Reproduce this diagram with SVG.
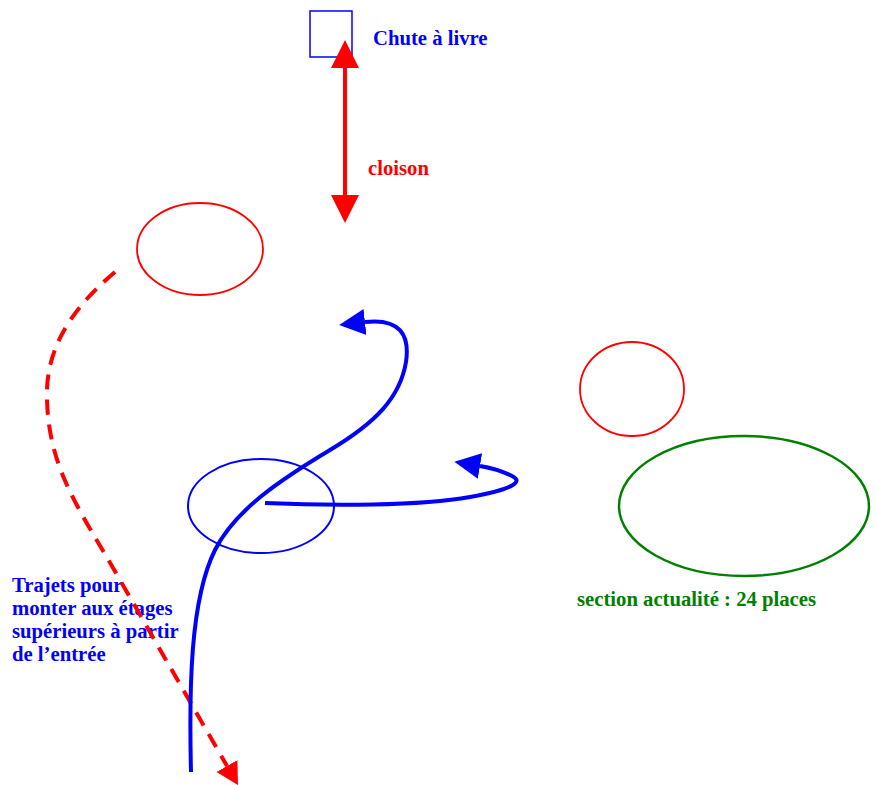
<svg xmlns="http://www.w3.org/2000/svg" width="877" height="785" viewBox="0 0 877 785">
<style>
.lbl{font-family:"Liberation Serif","Times New Roman",serif;font-weight:bold;font-size:20.7px}
.blue{fill:#0000FF}
.red{fill:#FF0000}
.green{fill:#008000}
.thin{fill:none;stroke-width:1.8}
</style>
<defs>
<marker id="ahRed" markerUnits="userSpaceOnUse" markerWidth="30" markerHeight="30" viewBox="0 -15 30 30" refX="0" refY="0" orient="auto-start-reverse">
<path d="M0,-14 L28,0 L0,14 z" fill="#FF0000"/>
</marker>
<marker id="ahRedD" markerUnits="userSpaceOnUse" markerWidth="30" markerHeight="30" viewBox="0 -15 30 30" refX="0" refY="0" orient="auto">
<path d="M0,-12 L22,0 L0,12 z" fill="#FF0000"/>
</marker>
<marker id="ahBlue" markerUnits="userSpaceOnUse" markerWidth="30" markerHeight="30" viewBox="0 -15 30 30" refX="0" refY="0" orient="auto">
<path d="M0,-13 L26,0 L0,13 z" fill="#0000FF"/>
</marker>
</defs>
<rect width="877" height="785" fill="#FFFFFF"/>
<g id="chute">
<rect x="310" y="11" width="42" height="46" fill="none" stroke="#0000FF" stroke-width="1.5"/>
<text class="lbl blue" x="373" y="45">Chute à livre</text>
</g>
<g id="cloison">
<text class="lbl red" x="368" y="175">cloison</text>
</g>
<g id="red-ellipse-1"><ellipse cx="200" cy="249" rx="63" ry="46" class="thin" stroke="#FF0000"/></g>
<g id="red-ellipse-2"><ellipse cx="632" cy="389" rx="52" ry="47" class="thin" stroke="#FF0000"/></g>
<g id="blue-ellipse"><ellipse cx="261" cy="506" rx="73" ry="47" fill="none" stroke="#0000FF" stroke-width="2"/></g>
<g id="section">
<ellipse cx="744" cy="506" rx="125" ry="70" fill="none" stroke="#008000" stroke-width="2.5"/>
<text class="lbl green" x="577" y="606">section actualité : 24 places</text>
</g>
<g id="trajets">
<text class="lbl blue" x="12"><tspan x="12" y="592">Trajets pour</tspan><tspan x="12" y="615">monter aux étages</tspan><tspan x="12" y="638">supérieurs à partir</tspan><tspan x="12" y="661">de l’entrée</tspan></text>
</g>
<g id="connectors">
<line x1="345" y1="68" x2="345" y2="195" stroke="#FF0000" stroke-width="4" marker-start="url(#ahRed)" marker-end="url(#ahRed)"/>
<path d="M115,272 C70,310 45,350 47,400 C49,470 80,510 120,580 L227,766" fill="none" stroke="#FF0000" stroke-width="4" stroke-dasharray="15,10" marker-end="url(#ahRedD)"/>
<path d="M191,772 C189,690 190,600 215,550 C235,510 280,480 330,450 C375,423 400,398 406,362 C410,335 400,318 365,322" fill="none" stroke="#0000FF" stroke-width="4" marker-end="url(#ahBlue)"/>
<path d="M265,503 C330,506 420,506 470,497 C510,490 525,482 512,476 C502,471 492,468 480,466" fill="none" stroke="#0000FF" stroke-width="4" marker-end="url(#ahBlue)"/>
</g>
</svg>
